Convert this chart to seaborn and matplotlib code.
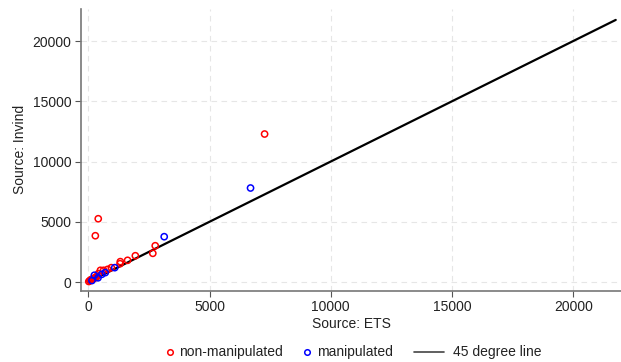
import matplotlib
matplotlib.use("Agg")
import matplotlib.pyplot as plt
import seaborn as sns
import pandas as pd
from matplotlib.lines import Line2D

# Data
nm_ets = [20, 60, 100, 150, 200, 250, 300, 350, 420, 500, 630, 800, 950, 1310, 1320, 1620, 1940, 2660, 2760, 290, 410, 7270]
nm_inv = [40, 110, 180, 220, 280, 320, 380, 450, 700, 970, 970, 1050, 1190, 1520, 1690, 1800, 2180, 2380, 3010, 3840, 5250, 12280]
m_ets = [150, 250, 400, 560, 700, 1090, 3130, 6690]
m_inv = [120, 560, 350, 640, 780, 1190, 3760, 7800]
line_max = 21750
x_ticks = [0, 5000, 10000, 15000, 20000]
y_ticks = [0, 5000, 10000, 15000, 20000]
legend_labels = ["non-manipulated", "manipulated", "45 degree line"]

sns.set_theme(style="white")
plt.rcParams['font.family'] = ['Liberation Sans', 'DejaVu Sans']

df = pd.DataFrame({
    "ets": nm_ets + m_ets,
    "invind": nm_inv + m_inv,
    "group": ["non-manipulated"] * len(nm_ets) + ["manipulated"] * len(m_ets),
})

W, H = 621, 362
fig = plt.figure(figsize=(W / 100, H / 100), dpi=100)
ax = fig.add_axes([81 / W, 1 - 290.7 / H, (W - 81) / W, (290.7 - 9) / H])

for x in x_ticks:
    ax.axvline(x, color="#e6e6e6", lw=0.8, ls=(0, (5, 4)), zorder=0)
for y in y_ticks:
    ax.axhline(y, color="#e6e6e6", lw=0.8, ls=(0, (5, 4)), zorder=0)

sns.scatterplot(data=df, x="ets", y="invind", hue="group",
                palette={"non-manipulated": "red", "manipulated": "blue"},
                ax=ax, marker="o", s=20, linewidth=1.1,
                legend=False, zorder=3)
for coll in ax.collections:
    fc = coll.get_facecolors()
    coll.set_edgecolors(fc)
    coll.set_facecolors("none")

sns.lineplot(x=[0, line_max], y=[0, line_max], color="black", lw=1.6, ax=ax, zorder=2)

ax.set_xlim(-301, 21967)
ax.set_ylim(-722, 22656)
ax.set_xticks(x_ticks)
ax.set_yticks(y_ticks)
ax.set_xticklabels([str(t) for t in x_ticks])
ax.set_yticklabels([str(t) for t in y_ticks])
ax.tick_params(axis="both", which="both", direction="out", length=4, width=0.8,
               color="#555555", labelsize=10, labelcolor="#222222", pad=3,
               bottom=True, left=True)
for side in ["top", "right"]:
    ax.spines[side].set_visible(False)
for side in ["left", "bottom"]:
    ax.spines[side].set_color("#777777")
    ax.spines[side].set_linewidth(1.2)
ax.set_xlabel("Source: ETS", fontsize=10, color="#222222", labelpad=2)
ax.set_ylabel("Source: Invind", fontsize=10, color="#222222", labelpad=4)

# Legend drawn in figure pixel positions (Stata-style)
ly = 1 - 352 / H
fig.add_artist(Line2D([169.5 / W], [ly], marker="o", ls="none", markerfacecolor="none",
                      markeredgecolor="red", markersize=4, mew=1.1, transform=fig.transFigure))
fig.text(179.5 / W, ly, legend_labels[0], fontsize=10, color="#222222", va="center", ha="left")
fig.add_artist(Line2D([306.5 / W], [ly], marker="o", ls="none", markerfacecolor="none",
                      markeredgecolor="blue", markersize=4, mew=1.1, transform=fig.transFigure))
fig.text(317 / W, ly, legend_labels[1], fontsize=10, color="#222222", va="center", ha="left")
fig.add_artist(Line2D([413.5 / W, 444 / W], [ly, ly], color="#444444", lw=1.2,
                      transform=fig.transFigure))
fig.text(453 / W, ly, legend_labels[2], fontsize=10, color="#222222", va="center", ha="left")

fig.savefig("out.png", dpi=100)
